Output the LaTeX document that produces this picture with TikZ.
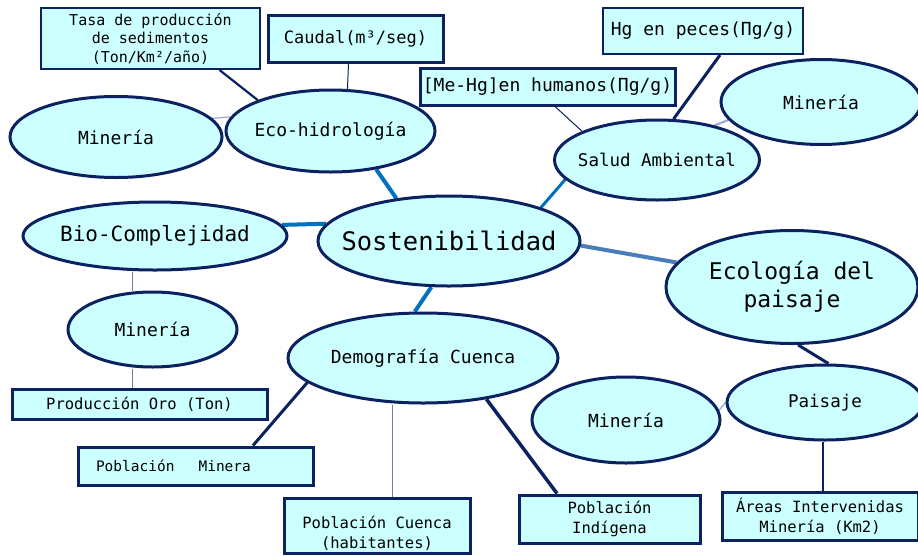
\documentclass[tikz,border=0pt]{standalone}
\usepackage{fontspec}
\setmainfont{DejaVu Sans Mono}
\usetikzlibrary{shapes.geometric,backgrounds}
\definecolor{navy}{RGB}{12,34,96}
\definecolor{cyanfill}{RGB}{204,255,255}
\definecolor{bblue}{RGB}{0,112,192}
\definecolor{sblue}{RGB}{74,126,187}
\definecolor{lblue}{RGB}{140,170,215}
\definecolor{glines}{RGB}{110,125,160}
\tikzset{
  ell/.style={ellipse, draw=navy, line width=3pt, fill=cyanfill, inner sep=0pt},
  box/.style={rectangle, draw=navy, line width=2pt, fill=cyanfill, inner sep=0pt, align=center},
  thickbox/.style={box, line width=3pt},
  fs/.style 2 args={font=\fontsize{#1}{#2}\selectfont},
  bluec/.style={bblue, line width=4pt},
  steelc/.style={sblue, line width=4pt},
  navyc/.style={navy, line width=3pt},
  navythin/.style={navy, line width=1pt},
  grayc/.style={glines, line width=1pt},
  lightc/.style={lblue, line width=1.2pt}
}
\begin{document}
\begin{tikzpicture}[x=1pt,y=-1pt]
\useasboundingbox (0,0) rectangle (918,555);

% rectangles
\node[box, fs={15}{18.5}, minimum width=219pt, minimum height=61pt] (tasa) at (150.5,38.5) {Tasa de producción\\de sedimentos\\(Ton/Km²/año)};
\node[thickbox, fs={17}{20}, minimum width=175pt, minimum height=47pt] (caudal) at (355.5,38.5) {Caudal(m³/seg)};
\node[thickbox, fs={18}{21}, minimum width=255pt, minimum height=37pt] (mehg) at (547.5,86.5) {[Me-Hg]en humanos(Πg/g)};
\node[box, fs={18}{21}, minimum width=200pt, minimum height=46pt] (peces) at (703,31) {Hg en peces(Πg/g)};
\node[thickbox, fs={15.5}{19}, minimum width=255pt, minimum height=30pt] (prod) at (139.5,404) {Producción Oro (Ton)};
\node[thickbox, fs={14.5}{18}, minimum width=235pt, minimum height=38pt, text width=199pt, inner xsep=18pt, align=left] (pmin) at (195.5,466) {Población\hspace*{24pt}Minera};
\node[thickbox, minimum width=186pt, minimum height=55pt, label={[fs={15.5}{20}, align=center, yshift=-8pt]center:Población Cuenca\\(habitantes)}] (pcue) at (377,525.5) {};
\node[thickbox, fs={15.5}{19.5}, minimum width=181pt, minimum height=48pt] (pind) at (609.5,519) {Población\\Indígena};
\node[thickbox, fs={15.5}{20}, minimum width=196pt, minimum height=48pt] (areas) at (820,516) {Áreas Intervenidas\\Minería (Km2)};

% ellipses
\node[ell, fs={18}{21}, minimum width=212pt, minimum height=81pt] (minTL) at (116,137) {\makebox[0pt]{Minería}};
\node[ell, fs={18}{21}, minimum width=209pt, minimum height=82pt] (eco) at (330.5,131) {\makebox[0pt]{Eco-hidrología}};
\node[ell, fs={18}{21}, minimum width=200pt, minimum height=85pt] (minTR) at (821,102) {\makebox[0pt]{Minería}};
\node[ell, fs={17.5}{21}, minimum width=205pt, minimum height=80pt] (salud) at (657,160) {\makebox[0pt]{Salud Ambiental}};
\node[ell, fs={21}{25}, minimum width=264pt, minimum height=68pt] (bio) at (155,236) {\makebox[0pt]{Bio-Complejidad}};
\node[ell, fs={25.5}{30}, minimum width=262pt, minimum height=90pt] (sost) at (449,241) {\makebox[0pt]{Sostenibilidad}};
\node[ell, fs={18}{21}, minimum width=169pt, minimum height=75pt] (minML) at (152.5,329.5) {\makebox[0pt]{Minería}};
\node[ell, fs={18}{21}, minimum width=270pt, minimum height=90pt] (demo) at (423,358) {\makebox[0pt]{Demografía Cuenca}};
\node[ell, fs={23}{28}, align=center, minimum width=252pt, minimum height=113pt] (ecol) at (792,287) {\makebox[0pt]{Ecología del}\\\makebox[0pt]{paisaje}};
\node[ell, fs={17.5}{21}, minimum width=196pt, minimum height=75pt] (paisaje) at (825,402.5) {\makebox[0pt]{Paisaje}};
\node[ell, fs={18}{21}, minimum width=188pt, minimum height=86pt] (minB) at (626,420) {\makebox[0pt]{Minería}};

\begin{pgfonlayer}{background}
\fill[white] (0,0) rectangle (918,555);
\draw[navyc, line width=2.2pt] ([xshift=69pt]tasa.south) -- (eco.157);
\draw[navythin] ([xshift=-7pt]caudal.south) -- (eco.68);
\draw[lightc] (minTL.11) -- (eco.172);
\draw[bluec] (eco.320) -- (sost.141);
\draw[bluec] (bio.5) -- (sost.172);
\draw[bluec, line width=3pt] (sost.20) -- (salud.192);
\draw[navythin] ([xshift=7.5pt]mehg.south) -- (salud.159);
\draw[navyc] ([xshift=17pt]peces.south) -- (salud.68);
\draw[lightc, line width=2pt] (minTR.191) -- (salud.31);
\draw[steelc] (sost.358) -- (ecol.168);
\draw[bluec] (sost.249) -- (demo.100);
\draw[grayc] ([xshift=-23pt]bio.south) -- ([xshift=-20.5pt]minML.north);
\draw[grayc] ([xshift=-20.5pt]minML.south) -- ([xshift=-7.5pt]prod.north);
\draw[navyc] (demo.192) -- ([xshift=57.5pt]pmin.north);
\draw[grayc] ([xshift=-31pt]demo.south) -- ([xshift=15pt]pcue.north);
\draw[navyc, line width=3.5pt] (demo.327) -- ([xshift=-52.5pt]pind.north);
\draw[navyc] (ecol.276) -- (paisaje.85);
\draw[lightc] (minB.6) -- (paisaje.180);
\draw[navyc, line width=2pt] ([xshift=-2pt]paisaje.south) -- ([xshift=3pt]areas.north);
\end{pgfonlayer}
\end{tikzpicture}
\end{document}
